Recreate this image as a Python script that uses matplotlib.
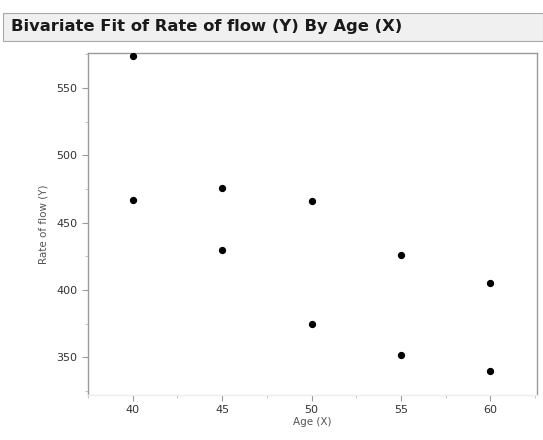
import numpy as np
import matplotlib.pyplot as plt
from matplotlib.patches import Rectangle
from matplotlib.ticker import MultipleLocator

age = [40, 40, 45, 45, 50, 50, 55, 55, 60, 60]
flow = [574, 467, 476, 430, 466, 375, 426, 352, 405, 340]
x_ticks = [40, 45, 50, 55, 60]
y_ticks = [350, 400, 450, 500, 550]

fig = plt.figure(figsize=(5.43, 4.40), dpi=100)

# title strip
fig.patches.append(Rectangle((0.006, 1 - 41 / 440), 0.994, 28 / 440,
                             transform=fig.transFigure, facecolor='#f0f0f0',
                             edgecolor='#a8a8a8', linewidth=0.8))
fig.text(0.021, 1 - 27 / 440, 'Bivariate Fit of Rate of flow (Y) By Age (X)',
         fontsize=11.8, fontweight='bold', va='center', ha='left', color='#1a1a1a')

ax = fig.add_axes([88 / 543, 1 - 395 / 440, 449 / 543, 342 / 440])
ax.scatter(age, flow, s=18, color='black', zorder=3, clip_on=True)

ax.set_xlim(37.5, 62.6)
ax.set_ylim(322, 576)
ax.set_xticks(x_ticks)
ax.set_yticks(y_ticks)
ax.xaxis.set_minor_locator(MultipleLocator(2.5))
ax.yaxis.set_minor_locator(MultipleLocator(25))

for s in ax.spines.values():
    s.set_color('#9a9a9a')
    s.set_linewidth(1.0)
ax.spines['bottom'].set_color('#ececec')

ax.tick_params(axis='both', which='major', direction='out', length=4, width=0.8,
               colors='#9a9a9a', labelcolor='#333333', labelsize=8)
ax.tick_params(axis='both', which='minor', direction='out', length=2, width=0.6,
               colors='#bbbbbb')

ax.set_xlabel('Age (X)', fontsize=7.5, color='#555555', labelpad=1)
ax.set_ylabel('Rate of flow (Y)', fontsize=7.5, color='#555555', labelpad=6)

fig.savefig('out.png', dpi=100)
